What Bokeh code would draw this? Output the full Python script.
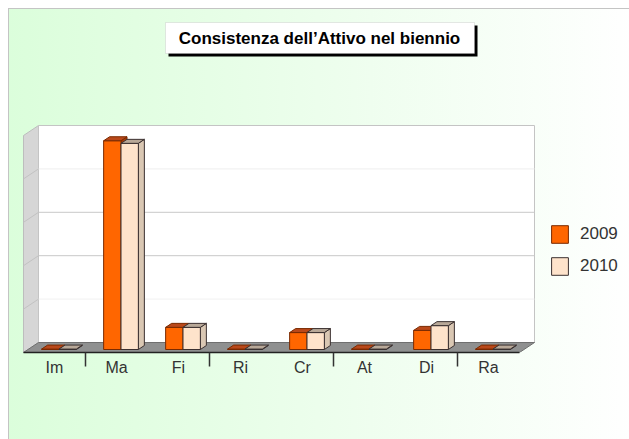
from bokeh.plotting import figure
from bokeh.models import Range1d, FixedTicker, Label, BoxAnnotation, Legend, LegendItem
from bokeh.embed import file_html
from bokeh.resources import INLINE

# ---------------- data ----------------
categories = ["Im", "Ma", "Fi", "Ri", "Cr", "At", "Di", "Ra"]
values_2009 = [1, 481, 51, 1, 39, 1, 44, 1]
values_2010 = [1, 475, 51, 1, 39, 1, 55, 1]
series_names = ["2009", "2010"]
grid_values = [100, 200, 300, 400]
axis_max = 500
title_text = "Consistenza dell\u2019Attivo nel biennio"

# ---------------- layout constants ----------------
W_PX, H_PX = 629, 439
CAT_PX = 62.0          # pixels per category
CAT0_PX = 54.0         # x of first category centre (front plane)
FLOOR_PY = 352.0       # y of the front floor edge
PX_PER_UNIT = 0.434    # pixels per value unit
DXF = 15.0 / CAT_PX    # full depth offset, x (category units)
DYF = 10.0 / PX_PER_UNIT  # full depth offset, y (value units)
BAR_W = 0.28
D0, D1 = 0.3, 0.7
XL, XR = -0.5, len(categories) - 0.5

def px_x(px):
    return (px - CAT0_PX) / CAT_PX

def px_y(py):
    return (FLOOR_PY - py) / PX_PER_UNIT

def proj(x, v, d):
    return x + d * DXF, v + d * DYF

def poly(points):
    xs, ys = [], []
    for (x, v, d) in points:
        a, b = proj(x, v, d)
        xs.append(a)
        ys.append(b)
    return xs, ys

p = figure(width=W_PX, height=H_PX, output_backend="svg", toolbar_location=None,
           x_range=Range1d(px_x(0), px_x(W_PX)),
           y_range=Range1d(0, px_y(0)),
           y_axis_location=None,
           min_border_left=0, min_border_right=0, min_border_top=0,
           min_border_bottom=int(H_PX - FLOOR_PY))
p.background_fill_color = None
p.border_fill_color = None
p.outline_line_color = None
p.xgrid.visible = False
p.ygrid.visible = False
p.styles = {
    "background": (
        "linear-gradient(#c4c4c4, #c4c4c4) no-repeat 8px 8px / 1px 100%, "
        "linear-gradient(#c4c4c4, #c4c4c4) no-repeat 8px 8px / 100% 1px, "
        "linear-gradient(90deg, #dbfedb 0%, #eefeee 55%, #ffffff 100%) no-repeat 8px 8px / 100% 100%, "
        "#ffffff"
    )
}

# side wall
sx, sy = poly([(XL, 0, 0), (XL, 0, 1), (XL, axis_max, 1), (XL, axis_max, 0)])
p.patch(sx, sy, fill_color="#d6d6d6", line_color="#bdbdbd", line_width=1)
# back wall
bx, by = poly([(XL, 0, 1), (XR, 0, 1), (XR, axis_max, 1), (XL, axis_max, 1)])
p.patch(bx, by, fill_color="#ffffff", line_color="#c4c4c4", line_width=1)

# gridlines
back_colors = ["#f1f1f1", "#c8c8c8", "#c8c8c8", "#eeeeee"]
for gv, col in zip(grid_values, back_colors):
    gx, gy = poly([(XL, gv, 1), (XR, gv, 1)])
    p.line(gx, gy, line_color=col, line_width=1)
    wx, wy = poly([(XL, gv, 0), (XL, gv, 1)])
    p.line(wx, wy, line_color="#c2c2c2", line_width=1)

# floor
fx, fy = poly([(XL, 0, 0), (XR, 0, 0), (XR, 0, 1), (XL, 0, 1)])
p.patch(fx, fy, fill_color="#8f9090", line_color="#6f6f6f", line_width=1)

styles = [
    dict(front="#ff6600", top="#b9481a", side="#a83c08", line="#7a2a00"),
    dict(front="#fee3cb", top="#b8a898", side="#d9c7b3", line="#3a3030"),
]

front_renderers = []
for s, vals in enumerate([values_2009, values_2010]):
    st = styles[s]
    fxs, fys, txs, tys, sxs, sys_ = [], [], [], [], [], []
    for i, h in enumerate(vals):
        x0 = i - BAR_W + s * BAR_W
        x1 = x0 + BAR_W
        a, b = poly([(x0, 0, D0), (x1, 0, D0), (x1, h, D0), (x0, h, D0)])
        fxs.append(a); fys.append(b)
        a, b = poly([(x0, h, D0), (x1, h, D0), (x1, h, D1), (x0, h, D1)])
        txs.append(a); tys.append(b)
        a, b = poly([(x1, 0, D0), (x1, 0, D1), (x1, h, D1), (x1, h, D0)])
        sxs.append(a); sys_.append(b)
    p.patches(sxs, sys_, fill_color=st["side"], line_color=st["line"], line_width=1)
    fr = p.patches(fxs, fys, fill_color=st["front"], line_color=st["line"], line_width=1)
    p.patches(txs, tys, fill_color=st["top"], line_color=st["line"], line_width=1)
    front_renderers.append(fr)

# x axis (front floor edge)
ax = p.xaxis[0]
ax.ticker = FixedTicker(ticks=list(range(len(categories))),
                        minor_ticks=[0.5, 2.5, 4.5, 6.5])
ax.major_label_overrides = {i: c for i, c in enumerate(categories)}
ax.bounds = (XL, XR)
ax.axis_line_color = "#222222"
ax.axis_line_width = 1.5
ax.major_tick_line_color = None
ax.major_tick_out = 0
ax.major_tick_in = 0
ax.minor_tick_line_color = "#333333"
ax.minor_tick_line_width = 1.5
ax.minor_tick_out = 14
ax.minor_tick_in = 0
ax.major_label_standoff = -8
ax.major_label_text_font = "Liberation Sans"
ax.major_label_text_font_size = "16px"
ax.major_label_text_color = "#333333"

# title box with shadow
sh = 3.0
p.add_layout(BoxAnnotation(left=px_x(165 + sh), right=px_x(474 + sh),
                           top=px_y(22 + sh), bottom=px_y(53 + sh),
                           fill_color="#000000", fill_alpha=1, line_color=None))
p.add_layout(BoxAnnotation(left=px_x(165), right=px_x(474),
                           top=px_y(22), bottom=px_y(53),
                           fill_color="#ffffff", fill_alpha=1,
                           line_color="#b0b0b0", line_width=1))
p.add_layout(Label(x=px_x(319), y=px_y(38), text=title_text,
                   text_align="center", text_baseline="middle",
                   text_font="Liberation Sans", text_font_style="bold",
                   text_font_size="17px", text_color="#000000"))

legend = Legend(items=[LegendItem(label=n, renderers=[r])
                       for n, r in zip(series_names, front_renderers)],
                location=(549, 75), orientation="vertical",
                padding=0, margin=0, spacing=10,
                glyph_width=21, glyph_height=22, label_standoff=10,
                label_text_font="Liberation Sans", label_text_font_size="17px",
                label_text_color="#333333",
                border_line_color=None, background_fill_alpha=0)
p.add_layout(legend)

open("out.html", "w").write(file_html(p, INLINE))
